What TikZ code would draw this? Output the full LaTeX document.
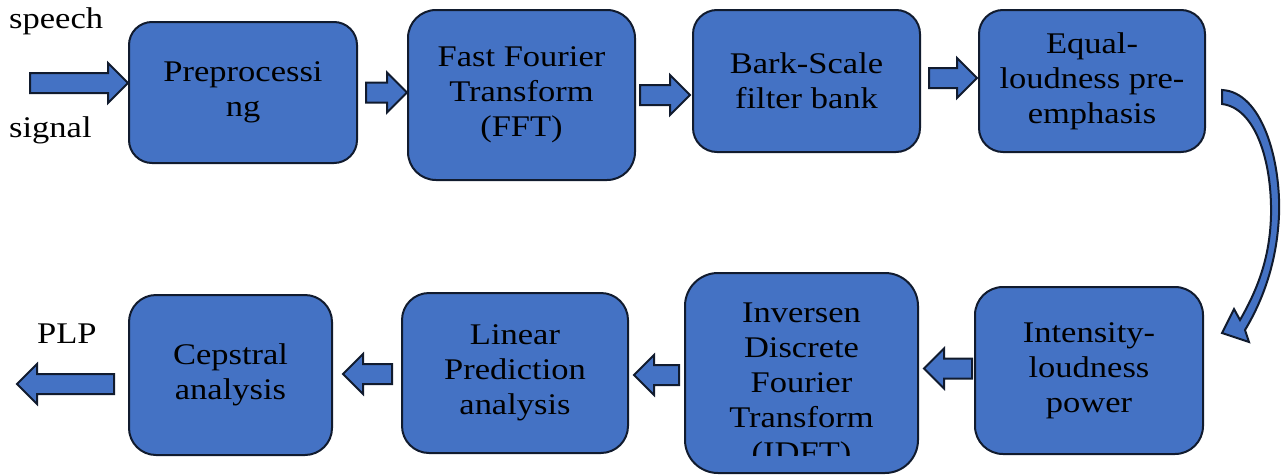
\documentclass[tikz,border=0pt]{standalone}
\usepackage{fontspec}
\setmainfont{Liberation Serif}[FakeStretch=1.15]
\usetikzlibrary{calc}

\definecolor{boxblue}{HTML}{4472C4}
\definecolor{edge}{HTML}{111B2E}

\tikzset{
  box/.style={draw=edge, fill=boxblue, line width=2pt, inner sep=0pt,
              align=center, font=\fontsize{30}{35}\selectfont},
  txt/.style={inner sep=0pt, align=center, font=\fontsize{30}{35}\selectfont},
  blk/.style={draw=edge, fill=boxblue, line width=2pt, line join=miter},
  lbl/.style={inner sep=0pt, anchor=base west, font=\fontsize{30}{35}\selectfont},
}

% horizontal block arrows: #1 tail point (sets the height), #2 tip point
\newcommand\rblock[2]{%
  \path[blk] let \p1=(#1), \p2=(#2) in
    (\x1,\y1-10pt) -- (\x2-20pt,\y1-10pt) -- (\x2-20pt,\y1-20pt) -- (\x2,\y1)
    -- (\x2-20pt,\y1+20pt) -- (\x2-20pt,\y1+10pt) -- (\x1,\y1+10pt) -- cycle;}
\newcommand\lblock[2]{%
  \path[blk] let \p1=(#1), \p2=(#2) in
    (\x1,\y1-10pt) -- (\x2+20pt,\y1-10pt) -- (\x2+20pt,\y1-20pt) -- (\x2,\y1)
    -- (\x2+20pt,\y1+20pt) -- (\x2+20pt,\y1+10pt) -- (\x1,\y1+10pt) -- cycle;}

\begin{document}
\begin{tikzpicture}[x=1pt, y=-1pt]
\useasboundingbox (0,0) rectangle (1282,474);

% upper row
\node[box, minimum width=228, minimum height=141, rounded corners=23] (pre)  at (243,92.5)
  {Preprocessi\\ng};
\node[box, minimum width=227, minimum height=170, rounded corners=28] (fft)  at (521.5,95)
  {Fast Fourier\\Transform\\(FFT)};
\node[box, minimum width=227, minimum height=142, rounded corners=24] (bark) at (806.5,81)
  {Bark-Scale\\filter bank};
\node[box, minimum width=226, minimum height=142, rounded corners=24] (eq)   at (1092,81)
  {Equal-\\loudness pre-\\emphasis};

% lower row
\node[box, minimum width=203, minimum height=160, rounded corners=27] (cep)  at (230.5,375)
  {Cepstral\\analysis};
\node[box, minimum width=226, minimum height=160, rounded corners=27] (lin)  at (515,373)
  {Linear\\Prediction\\analysis};
\node[box, minimum width=233, minimum height=200, rounded corners=33] (idft) at (801.5,373) {};
\node[box, minimum width=228, minimum height=167, rounded corners=28] (int)  at (1089,370.5)
  {Intensity-\\loudness\\power};

% the IDFT caption overflows its frame and is cut off at the bottom
\begin{scope}
  \clip (685,273) rectangle (918,455);
  \node[txt] (idfttxt) at (801.5,386) {Inversen\\Discrete\\Fourier\\Transform\\(IDFT)};
\end{scope}

% outside labels
\node[lbl] (speech) at (9,28)  {speech};
\node[lbl] (signal) at (9,137) {signal};
\node[lbl] (plp)    at (37,343) {PLP};

% free ends of the input and output arrows
\coordinate (sig) at (30,83);
\coordinate (out) at (17,384);

% block arrows along the chain
\rblock{sig}{pre.west}
\rblock{$(pre.east)+(8,0)$}{fft.west}
\rblock{$(fft.east)+(4,0)$}{$(bark.west)+(-2,0)$}
\rblock{$(bark.east)+(8,-3)$}{$(eq.west)+(-1,0)$}
\lblock{$(int.west)+(-2,-2)$}{$(idft.east)+(5,0)$}
\lblock{$(idft.west)+(-5,2)$}{$(lin.east)+(5,0)$}
\lblock{$(lin.west)+(-9,1)$}{$(cep.east)+(10,0)$}
\lblock{$(cep.west)+(-14,9)$}{out}

% curved arrow from the upper row down to the lower row
\path[blk]
  (1222,90) .. controls (1262,92) and (1281,160) .. (1279,215)
  .. controls (1277,262) and (1263,300) .. (1245,330)
  -- (1249,342) -- (1222,333) -- (1234,309) -- (1240,320)
  .. controls (1256,292) and (1270,260) .. (1271,215)
  .. controls (1272,160) and (1255,108) .. (1222,104) -- cycle;
\end{tikzpicture}
\end{document}
